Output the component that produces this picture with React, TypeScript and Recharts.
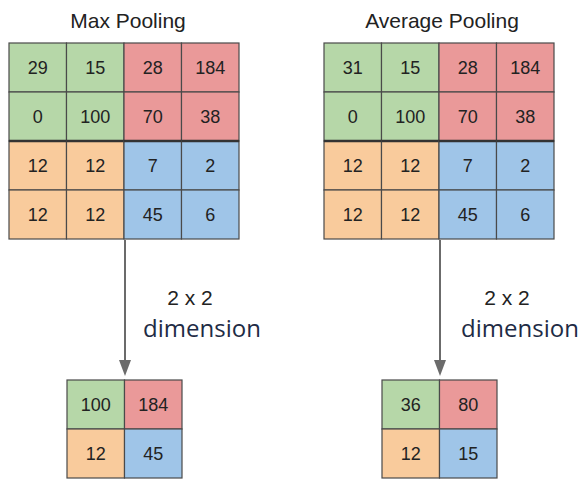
import React from 'react';
import { ScatterChart, Scatter, XAxis, YAxis, ReferenceLine, ReferenceDot } from 'recharts';

// pooling example values
const maxInput = [
  [29, 15, 28, 184],
  [0, 100, 70, 38],
  [12, 12, 7, 2],
  [12, 12, 45, 6],
];
const avgInput = [
  [31, 15, 28, 184],
  [0, 100, 70, 38],
  [12, 12, 7, 2],
  [12, 12, 45, 6],
];
const maxOutput = [
  [100, 184],
  [12, 45],
];
const avgOutput = [
  [36, 80],
  [12, 15],
];
const titles = ['Max Pooling', 'Average Pooling'];
const sizeLabel = '2 x 2';
const dimLabel = 'dimension';

const W = 582;
const H = 479;
const CELL_W = 57.5;
const CELL_H = 49;
// quadrant colours: top-left, top-right, bottom-left, bottom-right
const QUAD = [
  ['#b6d7a8', '#ea9999'],
  ['#f9cb9c', '#9fc5e8'],
];

type Cell = { x: number; y: number; value: number; fill: string; split: boolean };

function toCells(grid: number[][], x0: number, y0: number): Cell[] {
  const half = grid.length / 2;
  const out: Cell[] = [];
  grid.forEach((row, r) =>
    row.forEach((v, c) => {
      out.push({
        x: x0 + (c + 0.5) * CELL_W,
        y: y0 + (r + 0.5) * CELL_H,
        value: v,
        fill: QUAD[Math.floor(r / half)][Math.floor(c / half)],
        // big grids have a heavier line between the upper and lower halves
        split: grid.length > 2 && r === half,
      });
    })
  );
  return out;
}

const grids = [
  { data: toCells(maxInput, 9, 43), key: 'maxIn' },
  { data: toCells(avgInput, 324, 43), key: 'avgIn' },
  { data: toCells(maxOutput, 67, 380), key: 'maxOut' },
  { data: toCells(avgOutput, 382, 380), key: 'avgOut' },
];

const FONT = "'Liberation Sans', Arial, sans-serif";

const CellShape = (props: any) => {
  const { cx, cy, payload } = props;
  if (cx == null || cy == null) return null;
  const left = cx - CELL_W / 2;
  const top = cy - CELL_H / 2;
  return (
    <g>
      <rect x={left} y={top} width={CELL_W} height={CELL_H} fill={payload.fill} stroke="#4a4a4a" strokeWidth={1.2} />
      {payload.split && (
        <line x1={left} y1={top} x2={left + CELL_W} y2={top} stroke="#333" strokeWidth={2.6} />
      )}
      <text x={cx} y={cy} textAnchor="middle" dominantBaseline="central" fontFamily={FONT} fontSize={18} fill="#222">
        {payload.value}
      </text>
    </g>
  );
};

const Arrow = (props: any) => {
  const { x1, y1, x2, y2 } = props;
  return (
    <g>
      <line x1={x1} y1={y1} x2={x2} y2={y2 - 14} stroke="#6b6b6b" strokeWidth={2} />
      <polygon points={`${x2 - 6},${y2 - 16} ${x2 + 6},${y2 - 16} ${x2},${y2}`} fill="#6b6b6b" />
    </g>
  );
};

const textShape = (label: string, size: number, color: string, family: string, weight = 400) => (p: any) => (
  <text x={p.cx} y={p.cy} textAnchor="middle" fontFamily={family} fontSize={size} fontWeight={weight} fill={color}>
    {label}
  </text>
);

export default function App() {
  return (
    <div style={{ position: 'absolute', left: 0, top: 0, background: '#fff' }}>
      <ScatterChart width={W} height={H} margin={{ top: 0, right: 0, bottom: 0, left: 0 }}>
        <XAxis type="number" dataKey="x" domain={[0, W]} hide />
        <YAxis type="number" dataKey="y" domain={[0, H]} reversed hide />
        {grids.map((g) => (
          <Scatter key={g.key} data={g.data} shape={CellShape} isAnimationActive={false} />
        ))}
        <ReferenceLine segment={[{ x: 125, y: 240 }, { x: 125, y: 376 }]} shape={Arrow} />
        <ReferenceLine segment={[{ x: 440, y: 240 }, { x: 440, y: 376 }]} shape={Arrow} />
        <ReferenceDot x={128} y={28} r={0} shape={textShape(titles[0], 21, '#222', FONT)} />
        <ReferenceDot x={442} y={28} r={0} shape={textShape(titles[1], 21, '#222', FONT)} />
        <ReferenceDot x={190} y={305} r={0} shape={textShape(sizeLabel, 21, '#222', FONT, 500)} />
        <ReferenceDot x={202} y={337} r={0} shape={textShape(dimLabel, 24, '#1e2b45', "'Open Sans', sans-serif")} />
        <ReferenceDot x={507} y={305} r={0} shape={textShape(sizeLabel, 21, '#222', FONT, 500)} />
        <ReferenceDot x={520} y={337} r={0} shape={textShape(dimLabel, 24, '#1e2b45', "'Open Sans', sans-serif")} />
      </ScatterChart>
    </div>
  );
}
